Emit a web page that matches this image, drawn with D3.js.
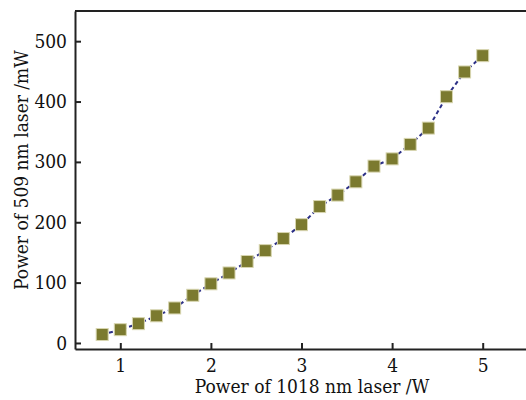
<!DOCTYPE html>
<html><head><meta charset="utf-8">
<script src="https://cdn.jsdelivr.net/npm/d3@7"></script>
<style>body{margin:0;background:#fff}svg{display:block}</style>
</head><body>
<svg id="c" width="526" height="400"></svg>
<script>
const xValues = [0.8,1.0,1.2,1.4,1.6,1.8,2.0,2.2,2.4,2.6,2.8,3.0,3.2,3.4,3.6,3.8,4.0,4.2,4.4,4.6,4.8,5.0];
const yValues = [14,22,32,45,58,79,98,116,135,153,173,196,226,245,267,293,305,329,356,408,449,476];
const xTicks = [1,2,3,4,5];
const yTicks = [0,100,200,300,400,500];
const xLabel = "Power of 1018 nm laser /W";
const yLabel = "Power of 509 nm laser /mW";

const svg = d3.select("#c");
const font = "'DejaVu Serif Condensed', 'DejaVu Serif', serif";
const L = 75, R = 528, T = 11, B = 349;
const x = d3.scaleLinear().domain([0.5, 5.5]).range([L, R]);
const y = d3.scaleLinear().domain([-10, 550]).range([B, T]);

const xAxis = svg.append("g").attr("transform", `translate(0,${B})`)
  .call(d3.axisBottom(x).tickValues(xTicks).tickFormat(d3.format("d")).tickSizeInner(-6).tickSizeOuter(0).tickPadding(10));
const yAxis = svg.append("g").attr("transform", `translate(${L},0)`)
  .call(d3.axisLeft(y).tickValues(yTicks).tickFormat(d3.format("d")).tickSizeInner(-6).tickSizeOuter(0).tickPadding(8));
[xAxis, yAxis].forEach(g => {
  g.select(".domain").attr("stroke", "#222").attr("stroke-width", 2);
  g.selectAll(".tick line").attr("stroke", "#222").attr("stroke-width", 2);
  g.selectAll("text").attr("font-family", font).attr("font-size", 19).attr("fill", "#111");
});
svg.append("line").attr("x1", L).attr("x2", R).attr("y1", T).attr("y2", T)
  .attr("stroke", "#222").attr("stroke-width", 2);

const pts = xValues.map((v, i) => [v, yValues[i]]);
svg.append("path").datum(pts)
  .attr("d", d3.line().x(d => x(d[0])).y(d => y(d[1])))
  .attr("fill", "none").attr("stroke", "#2b2f86").attr("stroke-width", 2)
  .attr("stroke-dasharray", "4,3");

const s = 12;
svg.append("g").selectAll("rect").data(pts).join("rect")
  .attr("x", d => x(d[0]) - s/2).attr("y", d => y(d[1]) - s/2)
  .attr("width", s).attr("height", s)
  .attr("fill", "#7b7a2f").attr("stroke", "#d8d6b0").attr("stroke-width", 1);

svg.append("text").attr("x", 312).attr("y", 393).attr("text-anchor", "middle")
  .attr("font-family", font).attr("font-size", 19).attr("fill", "#111").text(xLabel);
svg.append("text").attr("transform", "translate(28,170) rotate(-90)").attr("text-anchor", "middle")
  .attr("font-family", font).attr("font-size", 19).attr("fill", "#111").text(yLabel);
</script>
</body></html>
